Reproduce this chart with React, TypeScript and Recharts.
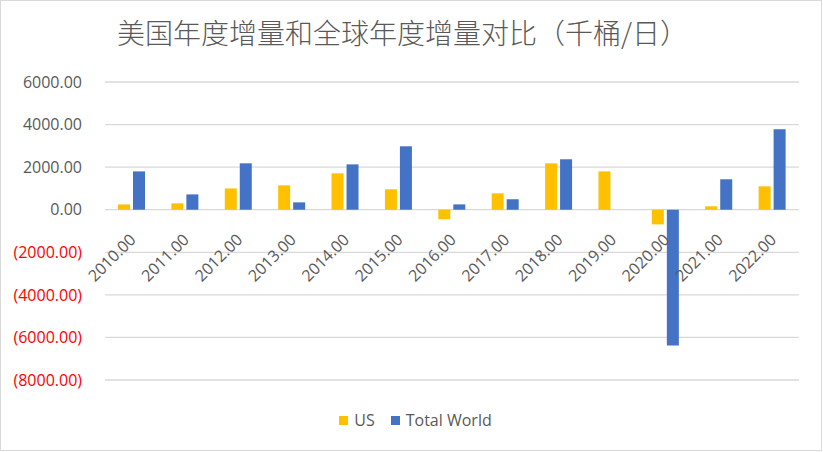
import React from 'react';
import { BarChart, Bar, XAxis, YAxis, CartesianGrid } from 'recharts';

// years on the category axis
const years = [2010, 2011, 2012, 2013, 2014, 2015, 2016, 2017, 2018, 2019, 2020, 2021, 2022];
// annual increments, thousand barrels per day
const usValues = [250, 300, 1000, 1145, 1710, 960, -450, 770, 2180, 1800, -690, 160, 1100];
const worldValues = [1800, 720, 2180, 345, 2130, 2980, 250, 490, 2370, 0, -6380, 1430, 3780];
const yTicks = [-8000, -6000, -4000, -2000, 0, 2000, 4000, 6000];

const seriesNames = ['US', 'Total World'];
const seriesColors = ['#FFC000', '#4472C4'];
const title = '美国年度增量和全球年度增量对比（千桶/日）';

const W = 823;
const H = 452;
const MARGIN = { top: 82, right: 24, bottom: 42, left: 0 };
const X_AXIS_H = 30;
const Y_MIN = yTicks[0];
const Y_MAX = yTicks[yTicks.length - 1];
const PLOT_H = H - MARGIN.top - MARGIN.bottom - X_AXIS_H;
const ZERO_Y = MARGIN.top + (PLOT_H * Y_MAX) / (Y_MAX - Y_MIN);

const LATIN = '"Open Sans", "Noto Sans", sans-serif';
const TEXT = '#595959';

const data = years.map((year, i) => ({
  year,
  us: usValues[i],
  world: worldValues[i],
}));

const fmtY = (v: number) => (v < 0 ? `(${Math.abs(v).toFixed(2)})` : v.toFixed(2));

const YTick = ({ x, y, payload }: any) => (
  <text
    x={x}
    y={y}
    dy="0.355em"
    textAnchor="end"
    fill={payload.value < 0 ? '#FF0000' : TEXT}
    fontSize={16}
    fontFamily={LATIN}
  >
    {fmtY(payload.value)}
  </text>
);

// category labels sit under the zero line, not at the bottom of the plot
const XTick = ({ x, payload }: any) => (
  <text
    transform={`translate(${x + 5},${ZERO_Y + 31}) rotate(-45)`}
    textAnchor="end"
    fill={TEXT}
    fontSize={16}
    fontFamily={LATIN}
  >
    {`${payload.value}.00`}
  </text>
);

export default function App() {
  return (
    <div style={{ position: 'absolute', left: 0, top: 0, width: W, height: H, background: '#fff' }}>
      <div
        style={{
          position: 'absolute',
          left: 0,
          top: 0,
          width: 822,
          height: 451,
          border: '1px solid #d9d9d9',
          boxSizing: 'border-box',
        }}
      />
      <div
        style={{
          position: 'absolute',
          left: 117,
          top: 18,
          fontSize: 28,
          lineHeight: '28px',
          fontWeight: 300,
          color: TEXT,
          whiteSpace: 'nowrap',
          fontFamily: '"Noto Sans CJK SC", sans-serif',
        }}
      >
        {title}
      </div>
      <div style={{ position: 'absolute', left: 0, top: 0 }}>
        <BarChart width={W} height={H} data={data} margin={MARGIN} barSize={12} barGap={3}>
          <CartesianGrid vertical={false} stroke="#d9d9d9" strokeWidth={1.3} />
          <XAxis
            dataKey="year"
            height={X_AXIS_H}
            axisLine={false}
            tickLine={false}
            interval={0}
            tick={<XTick />}
          />
          <YAxis
            width={105}
            domain={[Y_MIN, Y_MAX]}
            ticks={yTicks}
            axisLine={false}
            tickLine={false}
            tickSize={6}
            tickMargin={17}
            tick={<YTick />}
          />
          <Bar dataKey="us" name={seriesNames[0]} fill={seriesColors[0]} isAnimationActive={false} />
          <Bar dataKey="world" name={seriesNames[1]} fill={seriesColors[1]} isAnimationActive={false} />
        </BarChart>
      </div>
      <div
        style={{
          position: 'absolute',
          left: 0,
          top: 410,
          width: W,
          height: 20,
          display: 'flex',
          justifyContent: 'center',
          alignItems: 'center',
          fontFamily: LATIN,
          fontSize: 16,
          color: TEXT,
          paddingLeft: 8,
          boxSizing: 'border-box',
        }}
      >
        {seriesNames.map((name, i) => (
          <div key={name} style={{ display: 'flex', alignItems: 'center', marginRight: i === 0 ? 16 : 0 }}>
            <span style={{ width: 9, height: 9, background: seriesColors[i], marginRight: 6 }} />
            <span>{name}</span>
          </div>
        ))}
      </div>
    </div>
  );
}
